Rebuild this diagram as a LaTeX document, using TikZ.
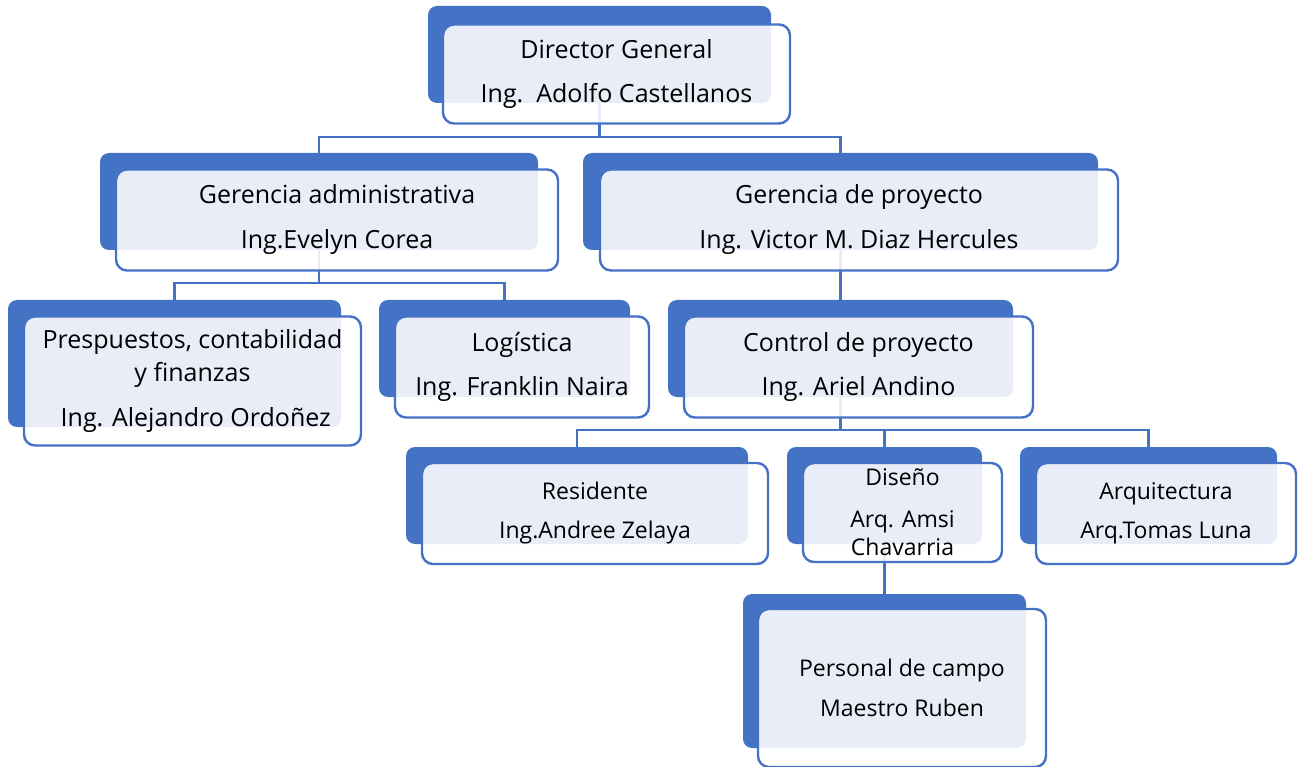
\documentclass[tikz,border=0pt]{standalone}
\usepackage{fontspec}
\setmainfont{Open Sans}
\definecolor{boxblue}{RGB}{68,114,196}

\begin{document}
\begin{tikzpicture}[x=1pt, y=-1pt,
    backbox/.style={fill=boxblue, rounded corners=9pt, inner sep=0pt},
    frontbox/.style={draw=boxblue, line width=2.4pt, fill=white, fill opacity=0.88,
        text opacity=1, rounded corners=11pt, inner sep=0pt, align=center},
    link/.style={draw=boxblue, line width=2.4pt},
    bigtext/.style={font=\fontsize{25}{30}\selectfont},
    smalltext/.style={font=\fontsize{23}{28}\selectfont}]
    \useasboundingbox (0,0) rectangle (1304,767);

    \node[backbox, minimum width=343pt, minimum height=97pt] (dirB) at (599.5,54.5) {};
    \node[backbox, minimum width=438pt, minimum height=97pt] (gaB) at (319,201.5) {};
    \node[backbox, minimum width=515pt, minimum height=97pt] (gpB) at (840.5,201.5) {};
    \node[backbox, minimum width=333pt, minimum height=127pt] (preB) at (174.5,363.5) {};
    \node[backbox, minimum width=251pt, minimum height=97pt] (logB) at (504.5,348.5) {};
    \node[backbox, minimum width=345pt, minimum height=97pt] (ctrlB) at (840.5,348.5) {};
    \node[backbox, minimum width=342pt, minimum height=97pt] (resB) at (577,495.5) {};
    \node[backbox, minimum width=195pt, minimum height=97pt] (disB) at (884.5,495.5) {};
    \node[backbox, minimum width=257pt, minimum height=97pt] (arqB) at (1148.5,495.5) {};
    \node[backbox, minimum width=283pt, minimum height=154pt] (perB) at (884.5,671) {};

    \coordinate (bar1) at (0,137);
    \coordinate (bar2) at (0,283);
    \coordinate (bar3) at (0,430);
    \draw[link] (dirB.south) -- (dirB.south |- bar1) -| (gaB.north);
    \draw[link] (dirB.south |- bar1) -| (gpB.north);
    \draw[link] (gaB.south) -- (gaB.south |- bar2) -| (preB.north);
    \draw[link] (gaB.south |- bar2) -| (logB.north);
    \draw[link] (gpB.south) -- (ctrlB.north);
    \draw[link] (ctrlB.south) -- (ctrlB.south |- bar3) -| (resB.north);
    \draw[link] (ctrlB.south |- bar3) -| (arqB.north);
    \draw[link] (disB.north |- bar3) -- (disB.north);
    \draw[link] (disB.south) -- (perB.north);

    \node[frontbox, bigtext, minimum width=347pt, minimum height=99pt] (dir) at (616.5,74)
        {Director General\\[14pt]Ing.\ \ Adolfo Castellanos};
    \node[frontbox, bigtext, minimum width=442pt, minimum height=101pt] (ga) at (337,220)
        {Gerencia administrativa\\[15pt]Ing.Evelyn Corea};
    \node[frontbox, bigtext, minimum width=518pt, minimum height=101pt] (gp) at (859,220)
        {Gerencia de proyecto\\[15pt]Ing. Victor M. Diaz Hercules};
    \node[frontbox, bigtext, minimum width=337pt, minimum height=129pt] (pre) at (192.5,381)
        {Prespuestos, contabilidad\\[3pt]y finanzas\\[15pt]\ Ing. Alejandro Ordoñez};
    \node[frontbox, bigtext, minimum width=254pt, minimum height=101pt] (log) at (522,367)
        {Logística\\[14pt]Ing. Franklin Naira};
    \node[frontbox, bigtext, minimum width=349pt, minimum height=101pt] (ctrl) at (858.5,367)
        {Control de proyecto\\[14pt]Ing. Ariel Andino};
    \node[frontbox, smalltext, minimum width=346pt, minimum height=101pt] (res) at (595,513.5)
        {Residente\\[11pt]Ing.Andree Zelaya};
    \node[frontbox, smalltext, minimum width=199pt, minimum height=99pt] (dis) at (902.5,512.5)
        {Diseño\\[14pt]Arq. Amsi\\[0pt]Chavarria};
    \node[frontbox, smalltext, minimum width=260pt, minimum height=101pt] (arq) at (1166,513.5)
        {Arquitectura\\[11pt]Arq.Tomas Luna};
    \node[frontbox, smalltext, minimum width=288pt, minimum height=158pt] (per) at (902,688)
        {Personal de campo\\[12pt]Maestro Ruben};
\end{tikzpicture}
\end{document}
